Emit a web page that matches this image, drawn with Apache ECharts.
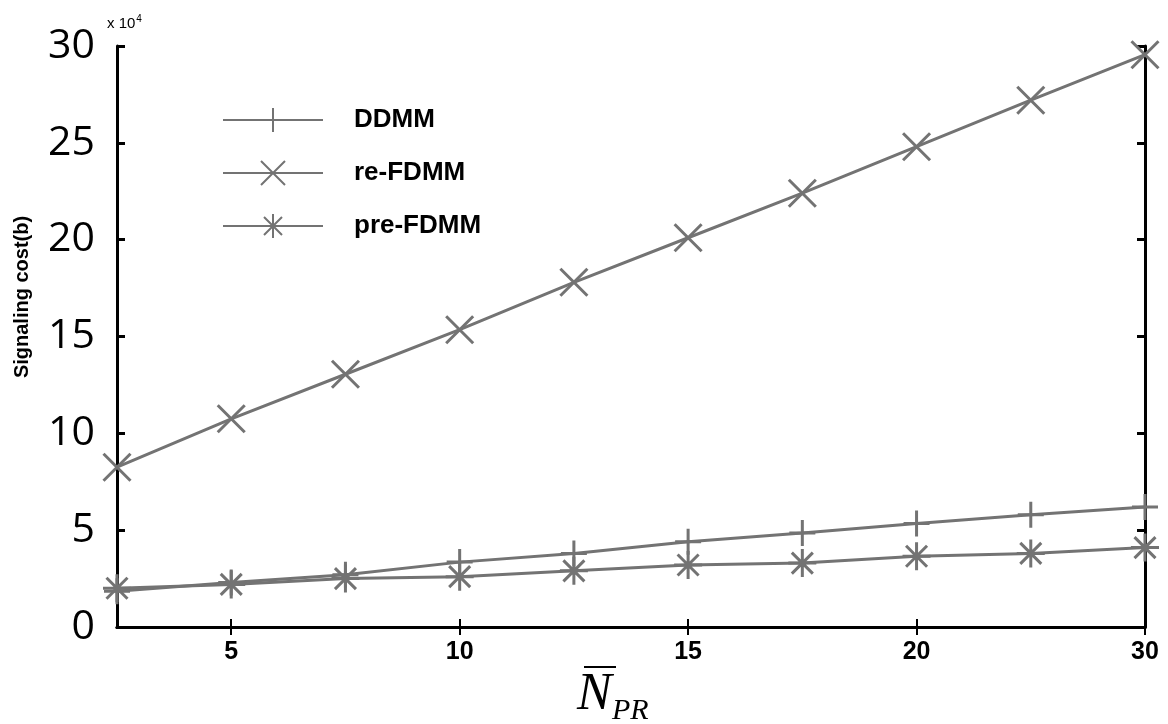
<!DOCTYPE html>
<html>
<head>
<meta charset="utf-8">
<script src="https://cdn.jsdelivr.net/npm/echarts@6/dist/echarts.min.js"></script>
<style>
html,body{margin:0;padding:0;background:#fff;}
#chart{width:1168px;height:724px;}
</style>
</head>
<body>
<div id="chart"></div>
<script>
// x categories (N_PR), tick labels shown at odd indices
const categories = ['2.5','5','7.5','10','12.5','15','17.5','20','22.5','30'];
// Signaling cost in units of 10^4 b
const ddmm    = [1.85, 2.3, 2.7, 3.35, 3.8, 4.4, 4.85, 5.35, 5.8, 6.2];
const reFdmm  = [8.25, 10.75, 13.05, 15.35, 17.8, 20.1, 22.4, 24.8, 27.2, 29.55];
const preFdmm = [2.0, 2.2, 2.5, 2.6, 2.9, 3.2, 3.3, 3.65, 3.8, 4.1];
const yTicks = [0, 5, 10, 15, 20, 25, 30];

const GREY = '#737373';
const PLUS = 'path://M10,0L10,20M0,10L20,10';
const CROSS = 'path://M0,0L20,20M20,0L0,20';
const STAR = 'path://M10,0L10,20M0,10L20,10M2.5,2.5L17.5,17.5M17.5,2.5L2.5,17.5';

const chart = echarts.init(document.getElementById('chart'));
const showOdd = (i) => i % 2 === 1;

function mkSeries(name, data, symbol, size) {
  return {
    name, type: 'line', data, symbol, symbolSize: size,
    showAllSymbol: true, smooth: false,
    lineStyle: {color: GREY, width: 3},
    itemStyle: {color: GREY, borderColor: GREY, borderWidth: 3},
    emphasis: {disabled: true}
  };
}

chart.setOption({
  backgroundColor: '#fff',
  animation: false,
  grid: {left: 117, right: 23, top: 46, bottom: 97, show: false, outerBoundsMode: 'none', containLabel: false},
  legend: {
    orient: 'vertical', left: 217, top: 102,
    itemWidth: 100, itemHeight: 30, itemGap: 27,
    backgroundColor: '#fff',
    textStyle: {fontFamily: 'Liberation Sans', fontWeight: 'bold', fontSize: 26, color: '#000', padding: [0,0,0,26]},
    data: ['DDMM','re-FDMM','pre-FDMM']
  },
  xAxis: [{
    type: 'category', data: categories, boundaryGap: false, position: 'bottom',
    axisLine: {lineStyle: {color: '#000', width: 3}},
    axisTick: {inside: true, length: 8, interval: showOdd, lineStyle: {color: '#000', width: 2}},
    axisLabel: {interval: showOdd, margin: 13, fontFamily: 'Liberation Sans Narrow, Liberation Sans', fontWeight: 'bold', fontSize: 25, color: '#000'},
    splitLine: {show: false}
  },{
    type: 'category', data: categories, boundaryGap: false, position: 'top',
    axisLine: {lineStyle: {color: '#000', width: 3}},
    axisTick: {inside: true, length: 8, interval: showOdd, lineStyle: {color: '#000', width: 2}},
    axisLabel: {show: false}, splitLine: {show: false}
  }],
  yAxis: [{
    type: 'value', min: 0, max: 30, interval: 5, position: 'left',
    axisLine: {show: true, lineStyle: {color: '#000', width: 3}},
    axisTick: {show: true, inside: true, length: 8, lineStyle: {color: '#000', width: 3}},
    axisLabel: {margin: 22, fontFamily: 'Open Sans', fontSize: 41, color: '#000',
      formatter: (v) => yTicks.includes(v) ? String(v) : ''},
    splitLine: {show: false}
  },{
    type: 'value', min: 0, max: 30, interval: 5, position: 'right',
    axisLine: {show: true, lineStyle: {color: '#000', width: 3}},
    axisTick: {show: true, inside: true, length: 8, lineStyle: {color: '#000', width: 3}},
    axisLabel: {show: false}, splitLine: {show: false}
  }],
  graphic: [
    {type: 'text', x: 22, y: 297, rotation: Math.PI/2,
     style: {text: 'Signaling cost(b)', font: 'bold 20px "Liberation Sans"', fill: '#000', textAlign: 'center', textVerticalAlign: 'middle'}},
    {type: 'text', x: 107, y: 14,
     style: {text: '{a|x 10}{b|4}', rich: {
       a: {fontFamily: 'Liberation Sans', fontSize: 15, color: '#000'},
       b: {fontFamily: 'Liberation Sans', fontSize: 10, color: '#000', verticalAlign: 'top', padding: [0,0,10,1]}
     }}},
    // x-axis name: N-bar with subscript PR
    {type: 'text', x: 577, y: 695,
     style: {text: 'N', font: 'italic 52px "Liberation Serif"', fill: '#000', verticalAlign: 'middle', textVerticalAlign: 'middle'}},
    {type: 'line', shape: {x1: 584, y1: 667, x2: 616, y2: 667}, style: {stroke: '#000', lineWidth: 2}},
    {type: 'text', x: 612, y: 711,
     style: {text: 'PR', font: 'italic 30px "Liberation Serif"', fill: '#000', verticalAlign: 'middle', textVerticalAlign: 'middle'}}
  ],
  series: [
    mkSeries('DDMM', ddmm, PLUS, 26),
    mkSeries('re-FDMM', reFdmm, CROSS, 27),
    mkSeries('pre-FDMM', preFdmm, STAR, 28)
  ]
});
</script>
</body>
</html>
